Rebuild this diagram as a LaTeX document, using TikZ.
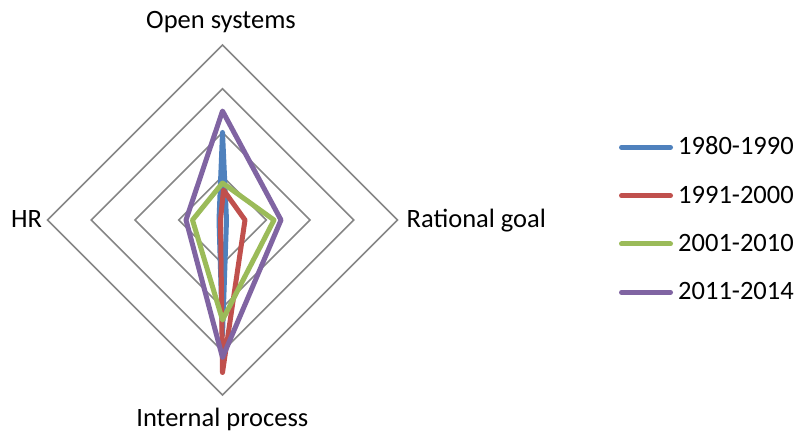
\documentclass[tikz,border=0pt]{standalone}
\usepackage{fontspec}
\setmainfont{Carlito}
\usetikzlibrary{calc}
\definecolor{sblue}{HTML}{4F81BD}
\definecolor{sred}{HTML}{C0504D}
\definecolor{sgreen}{HTML}{9BBB59}
\definecolor{spurple}{HTML}{8064A2}
\definecolor{gridgray}{HTML}{868686}
\tikzset{
  gridline/.style={draw=gridgray, line width=1.5pt, line join=miter},
  series/.style={line width=5pt, line join=round, line cap=round},
  lbl/.style={inner sep=0pt, anchor=base, font=\fontsize{26.5}{30}\selectfont},
  legtext/.style={inner sep=0pt, anchor=base west, font=\fontsize{26.5}{30}\selectfont},
  legline/.style={line width=5pt, line cap=round},
}
\begin{document}
\begin{tikzpicture}[x=1pt, y=-1pt]
\useasboundingbox (0,0) rectangle (800,435);
\coordinate (c) at (222.5,220);
% grid rings
\foreach \r in {43.75,87.5,131.25,175}{
  \draw[gridline] ($(c)+(0,-\r)$) -- ($(c)+(\r,0)$) -- ($(c)+(0,\r)$) -- ($(c)+(-\r,0)$) -- cycle;
}
% series
\draw[series, sblue]   (222.5,132.5) -- (226.5,220) -- (222.5,335) -- (219,220) -- cycle;
\draw[series, sred]    (223.5,190) -- (245,220) -- (222.5,372.5) -- (220.5,220) -- cycle;
\draw[series, sgreen]  (222.5,183) -- (274,220) -- (222.5,320) -- (192.5,220) -- cycle;
\draw[series, spurple] (222.5,111) -- (281,220) -- (222.5,357.5) -- (186,220) -- cycle;
% axis labels
\node[lbl] (os) at (221,28.3) {Open systems};
\node[lbl, anchor=base west] (rg) at (406.5,227.3) {Rational goal};
\node[lbl] (ip) at (222.3,426.7) {Internal process};
\node[lbl, anchor=base west] (hr) at (11,227.3) {HR};
% legend
\coordinate (l1a) at (621.5,147.3); \coordinate (l1b) at (670.5,147.3);
\coordinate (l2a) at (621.5,195.7); \coordinate (l2b) at (670.5,195.7);
\coordinate (l3a) at (621.5,244);   \coordinate (l3b) at (670.5,244);
\coordinate (l4a) at (621.5,292.3); \coordinate (l4b) at (670.5,292.3);
\draw[legline, sblue] (l1a) -- (l1b);
\draw[legline, sred] (l2a) -- (l2b);
\draw[legline, sgreen] (l3a) -- (l3b);
\draw[legline, spurple] (l4a) -- (l4b);
\node[legtext] (t1) at (678,155) {1980-1990};
\node[legtext] (t2) at (678,203.3) {1991-2000};
\node[legtext] (t3) at (678,251.7) {2001-2010};
\node[legtext] (t4) at (678,300) {2011-2014};
\end{tikzpicture}
\end{document}
